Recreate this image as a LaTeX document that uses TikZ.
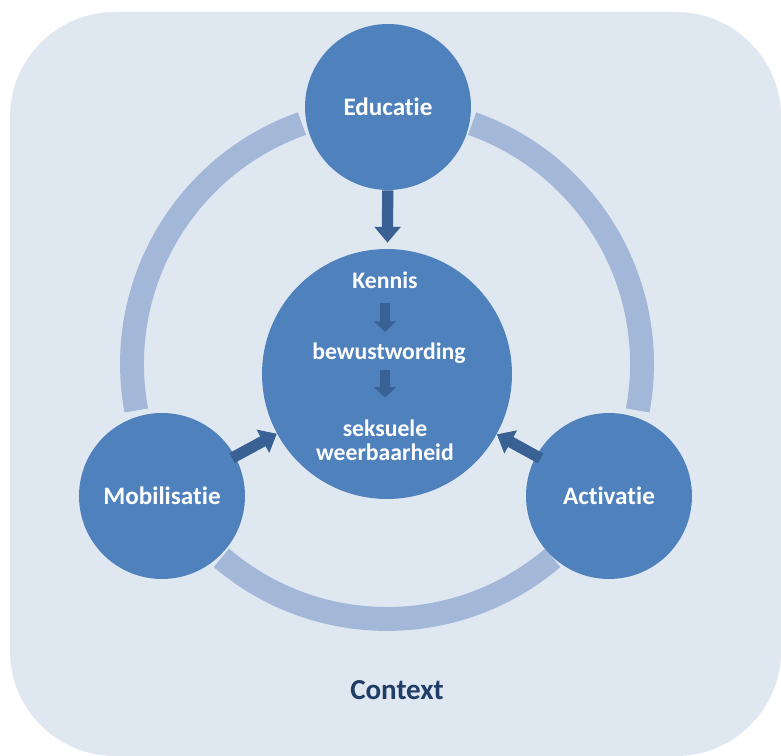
\documentclass[tikz,border=0pt]{standalone}
\usepackage{fontspec}
\setmainfont{Carlito}[Ligatures=NoCommon]
\usetikzlibrary{arrows.meta}

\definecolor{ctxbg}{HTML}{DFE7F1}
\definecolor{ringblue}{HTML}{A3B7D8}
\definecolor{discblue}{HTML}{4F81BD}
\definecolor{arrowblue}{HTML}{3A6194}
\definecolor{ctxtext}{HTML}{1F3D66}

\tikzset{
    disc/.style={circle, fill=discblue, text=white, inner sep=0pt,
        font=\bfseries\fontsize{14.3}{17}\selectfont},
    innertext/.style={text=white, inner sep=0pt, align=center,
        font=\bfseries\fontsize{13.5}{13.6}\selectfont},
    ringarc/.style={ringblue, line width=13.6pt},
    bigarrow/.style={arrowblue, line width=6.4pt, -{Triangle[width=14.5pt,length=9pt]}},
    smallarrow/.style={arrowblue, line width=5.7pt, -{Triangle[width=12.5pt,length=6pt]}}
}

\begin{document}
\begin{tikzpicture}[x=0.02cm, y=0.02cm]
    \useasboundingbox (0,0) rectangle (781,756);
    \fill[ctxbg, rounded corners=2.1cm] (10,0) rectangle (781,744);
    \coordinate (hub) at (387,392);
    \foreach \a in {90,210,330}
        \draw[ringarc] (hub) ++(\a+19.5:255) arc[start angle=\a+19.5, end angle=\a+100.5, radius=255];

    \node[disc, minimum size=3.32cm] (edu) at (388,649) {Educatie};
    \node[disc, minimum size=3.32cm] (mob) at (162,260) {Mobilisatie};
    \node[disc, minimum size=3.32cm] (act) at (609,260) {Activatie};
    \node[disc, minimum size=5cm] (core) at (387,382) {};

    \node[innertext] (kennis) at (385,476) {Kennis};
    \node[innertext] (bewust) at (389,403) {bewustwording};
    \node[innertext] (weer) at (385,316) {seksuele\\weerbaarheid};
    \node[text=ctxtext, font=\bfseries\fontsize{16.5}{20}\selectfont] (ctx) at (397,66) {Context};

    \draw[bigarrow, shorten >=3.4pt] (edu) -- (core);
    \draw[bigarrow, shorten <=-2pt, shorten >=0pt] (mob) -- (core);
    \draw[bigarrow, shorten <=-3pt, shorten >=0pt] (act) -- (core);
    \draw[smallarrow, shorten <=8pt, shorten >=5.9pt] (kennis.south) -- (kennis.south |- bewust.north);
    \draw[smallarrow, shorten <=3.6pt, shorten >=12.3pt] (kennis.south |- bewust.south) -- (kennis.south |- weer.north);
\end{tikzpicture}
\end{document}
